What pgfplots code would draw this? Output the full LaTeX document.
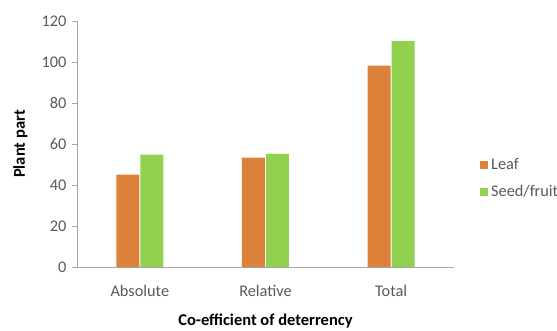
\documentclass[border=0pt]{standalone}
\usepackage{pgfplots}
\pgfplotsset{compat=1.18}
\usepackage{fontspec}
\setmainfont{Carlito}
\definecolor{leafc}{HTML}{DC8139}
\definecolor{seedc}{HTML}{92D050}
\definecolor{axgray}{HTML}{A6A6A6}
\definecolor{txtgray}{HTML}{595959}
\begin{document}
\begin{tikzpicture}[x=1pt,y=1pt]
\useasboundingbox (0,0) rectangle (557,331);
\begin{axis}[
  at={(77pt,64pt)}, anchor=south west,
  scale only axis, width=377pt, height=246pt,
  ymin=0, ymax=120, ytick={0,20,...,120},
  xmin=-0.5, xmax=2.5,
  xtick={0,1,2}, xticklabels={Absolute,Relative,Total},
  major x tick style={draw=none},
  ytick style={axgray, line width=0.8pt},
  tick align=outside, major tick length=5pt,
  axis x line*=bottom, axis y line*=left,
  axis line style={axgray, line width=0.9pt, -},
  ybar=1pt, bar width=23pt,
  every tick label/.append style={font=\fontsize{16.3}{19}\selectfont, text=txtgray},
  yticklabel style={xshift=-2pt},
  xticklabel style={yshift=-10pt},
  /pgf/number format/assume math mode=true,
  xlabel={\textbf{Co-efficient of deterrency}},
  ylabel={\textbf{Plant part}},
  xlabel style={font=\fontsize{16.5}{19}\selectfont, at={(axis description cs:0.5,0)}, anchor=base, yshift=-59pt},
  ylabel style={font=\fontsize{16.5}{19}\selectfont, at={(axis description cs:0,0.5)}, anchor=base, yshift=52pt},
  legend style={draw=none, fill=none, at={(axis description cs:1.069,0.36)}, anchor=west,
    inner sep=0pt, font=\fontsize{16.3}{19}\selectfont, text=txtgray, row sep=10pt,
    cells={anchor=west}},
  legend image code/.code={\fill[#1] (0pt,-4pt) rectangle (8pt,4pt);},
  legend cell align=left,
  legend style={nodes={inner xsep=3pt}},
]
\addplot[fill=leafc, draw=none] coordinates {(0,45) (1,53.3) (2,98.2)};
\addplot[fill=seedc, draw=none] coordinates {(0,54.8) (1,55.2) (2,110.2)};
\legend{Leaf,Seed/fruit}
\end{axis}
\end{tikzpicture}
\end{document}
